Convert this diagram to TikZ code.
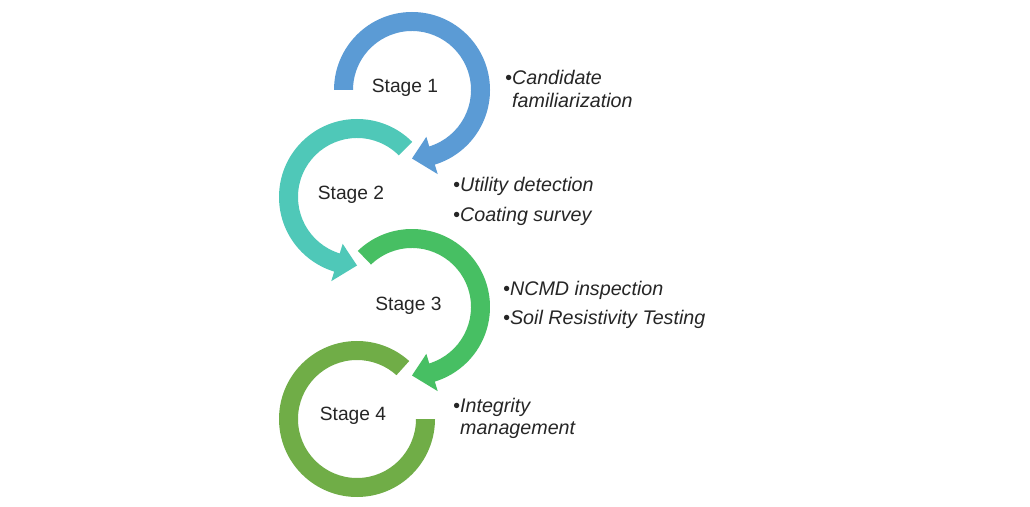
\documentclass[tikz,border=0pt]{standalone}
\usepackage{fontspec}
\setmainfont{Liberation Sans}
\definecolor{cblue}{HTML}{5B9BD5}
\definecolor{cteal}{HTML}{4FC8B8}
\definecolor{cgreen}{HTML}{47BF63}
\definecolor{colive}{HTML}{70AD47}
\tikzset{
  stagelbl/.style={anchor=base,inner sep=0pt,font=\fontsize{19.2}{22}\selectfont,text=black!85},
  itemlbl/.style={anchor=base west,inner sep=0pt,font=\fontsize{19.7}{22}\selectfont\itshape,text=black!85},
}
\begin{document}
\begin{tikzpicture}[x=1pt,y=1pt]
\fill[white] (0,0) rectangle (1030,506);
\useasboundingbox (0,0) rectangle (1030,506);
% Stage 1 (clockwise)
\begin{scope}[shift={(412,416)}]
\fill[cblue] (180:78pt) arc[start angle=180,end angle=-73,radius=78pt]
  -- (-73:88pt) -- (-90:68.5pt) -- (-73:49pt) -- (-73:59pt)
  arc[start angle=-73,end angle=180,radius=59pt] -- cycle;
\end{scope}
% Stage 2 (counterclockwise)
\begin{scope}[shift={(357,309)}]
\fill[cteal] (45:78pt) arc[start angle=45,end angle=253,radius=78pt]
  -- (253:88pt) -- (270:68.5pt) -- (253:49pt) -- (253:59pt)
  arc[start angle=253,end angle=45,radius=59pt] -- cycle;
\end{scope}
% Stage 3 (clockwise)
\begin{scope}[shift={(412,199)}]
\fill[cgreen] (134:78pt) arc[start angle=134,end angle=-73,radius=78pt]
  -- (-73:88pt) -- (-90:68.5pt) -- (-73:49pt) -- (-73:59pt)
  arc[start angle=-73,end angle=134,radius=59pt] -- cycle;
\end{scope}
% Stage 4 (counterclockwise, no head)
\begin{scope}[shift={(357,87)}]
\fill[colive] (48:78pt) arc[start angle=48,end angle=360,radius=78pt]
  -- (0:59pt) arc[start angle=360,end angle=48,radius=59pt] -- cycle;
\end{scope}
% Stage labels
\node[stagelbl] (s1) at (405,413) {Stage 1};
\node[stagelbl] (s2) at (351,306) {Stage 2};
\node[stagelbl] (s3) at (408.5,195) {Stage 3};
\node[stagelbl] (s4) at (353,85) {Stage 4};
% Items
\node[itemlbl] (i1a) at (505,421) {•Candidate};
\node[itemlbl] (i1b) at (512,398) {familiarization};
\node[itemlbl] (i2a) at (453,314) {•Utility detection};
\node[itemlbl] (i2b) at (453,284) {•Coating survey};
\node[itemlbl] (i3a) at (503,210) {•NCMD inspection};
\node[itemlbl] (i3b) at (503,181) {•Soil Resistivity Testing};
\node[itemlbl] (i4a) at (453,94) {•Integrity};
\node[itemlbl] (i4b) at (460,71) {management};
\end{tikzpicture}
\end{document}
